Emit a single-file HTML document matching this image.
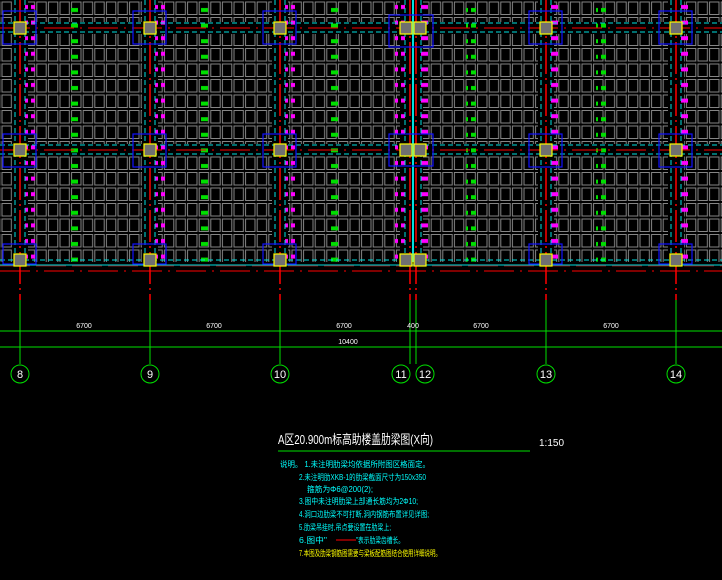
<!DOCTYPE html>
<html><head><meta charset="utf-8"><style>
html,body{margin:0;padding:0;background:#000;width:722px;height:580px;overflow:hidden}
svg{display:block}
</style></head><body>
<svg width="722" height="580" viewBox="0 0 722 580" xmlns="http://www.w3.org/2000/svg">
<defs>
<pattern id="cells" x="1" y="1" width="11.6" height="15.5" patternUnits="userSpaceOnUse">
<rect x="1" y="1" width="9.4" height="12.5" fill="none" stroke="#858585" stroke-width="1"/>
</pattern>
<pattern id="mag" x="0" y="2" width="10" height="15.6" patternUnits="userSpaceOnUse">
<rect x="1" y="3" width="7" height="4" fill="#ff00ff"/>
</pattern>
<pattern id="grn" x="0" y="5" width="10" height="15.6" patternUnits="userSpaceOnUse">
<rect x="1" y="3" width="7" height="4" fill="#00e000"/>
</pattern>
</defs>
<rect width="722" height="580" fill="#000"/>
<rect x="0" y="0" width="722" height="262" fill="url(#cells)"/>
<g fill="#000">
<rect x="12" y="0" width="16" height="262"/>
<rect x="142" y="0" width="16" height="262"/>
<rect x="272" y="0" width="16" height="262"/>
<rect x="400" y="0" width="23" height="262"/>
<rect x="538" y="0" width="16" height="262"/>
<rect x="668" y="0" width="16" height="262"/>
<rect x="0" y="22" width="722" height="12"/>
<rect x="0" y="144" width="722" height="12"/>
</g>
<g>
<rect x="25" y="0" width="10" height="262" fill="url(#mag)"/>
<rect x="155" y="0" width="10" height="262" fill="url(#mag)"/>
<rect x="285" y="0" width="10" height="262" fill="url(#mag)"/>
<rect x="395" y="0" width="10" height="262" fill="url(#mag)"/>
<rect x="421" y="0" width="10" height="262" fill="url(#mag)"/>
<rect x="551" y="0" width="10" height="262" fill="url(#mag)"/>
<rect x="681" y="0" width="10" height="262" fill="url(#mag)"/>
<rect x="70" y="0" width="10" height="262" fill="url(#grn)"/>
<rect x="200" y="0" width="10" height="262" fill="url(#grn)"/>
<rect x="330" y="0" width="10" height="262" fill="url(#grn)"/>
<rect x="466" y="0" width="10" height="262" fill="url(#grn)"/>
<rect x="596" y="0" width="10" height="262" fill="url(#grn)"/>
</g>
<g stroke="#00e0e0" stroke-width="1" stroke-dasharray="5,3" fill="none">
<line x1="0" y1="23" x2="722" y2="23"/><line x1="0" y1="32" x2="722" y2="32"/>
<line x1="0" y1="145" x2="722" y2="145"/><line x1="0" y1="154" x2="722" y2="154"/>
<line x1="0" y1="260" x2="722" y2="260"/>
</g>
<line x1="0" y1="265" x2="722" y2="265" stroke="#00e0e0" stroke-width="1"/>
<g stroke="#ff0000" stroke-width="1" stroke-dasharray="30,6,2,6" fill="none">
<line x1="0" y1="28" x2="722" y2="28"/>
<line x1="0" y1="150" x2="722" y2="150"/>
<line x1="0" y1="271" x2="722" y2="271"/>
</g>
<line x1="0" y1="266" x2="722" y2="266" stroke="#ff2020" stroke-width="0.6" stroke-dasharray="30,6"/>
<g>
<g stroke="#00e0e0" stroke-width="1" stroke-dasharray="5,3">
<line x1="15" y1="0" x2="15" y2="262"/><line x1="25" y1="0" x2="25" y2="262"/>
<line x1="145" y1="0" x2="145" y2="262"/><line x1="155" y1="0" x2="155" y2="262"/>
<line x1="275" y1="0" x2="275" y2="262"/><line x1="285" y1="0" x2="285" y2="262"/>
<line x1="405" y1="0" x2="405" y2="262"/><line x1="421" y1="0" x2="421" y2="262"/>
<line x1="541" y1="0" x2="541" y2="262"/><line x1="551" y1="0" x2="551" y2="262"/>
<line x1="671" y1="0" x2="671" y2="262"/><line x1="681" y1="0" x2="681" y2="262"/>
</g>
<line x1="413" y1="0" x2="413" y2="262" stroke="#00e0e0" stroke-width="2"/>
<g stroke="#ff0000" stroke-width="1.5" stroke-dasharray="32,4,2,4">
<line x1="20" y1="0" x2="20" y2="300"/><line x1="150" y1="0" x2="150" y2="300"/>
<line x1="280" y1="0" x2="280" y2="300"/><line x1="410" y1="0" x2="410" y2="300"/>
<line x1="416" y1="0" x2="416" y2="300"/><line x1="546" y1="0" x2="546" y2="300"/>
<line x1="676" y1="0" x2="676" y2="300"/>
</g>
</g>
<g stroke="#1010ff" stroke-width="1.2" fill="none">
<rect x="3" y="11" width="33" height="33"/><rect x="133" y="11" width="33" height="33"/>
<rect x="263" y="11" width="33" height="33"/><rect x="389" y="15" width="44" height="32"/>
<rect x="529" y="11" width="33" height="33"/><rect x="659" y="11" width="33" height="33"/>
<rect x="3" y="134" width="33" height="33"/><rect x="133" y="134" width="33" height="33"/>
<rect x="263" y="134" width="33" height="33"/><rect x="389" y="134" width="44" height="32"/>
<rect x="529" y="134" width="33" height="33"/><rect x="659" y="134" width="33" height="33"/>
<rect x="3" y="244" width="33" height="20"/><rect x="133" y="244" width="33" height="20"/>
<rect x="263" y="244" width="33" height="20"/>
<rect x="529" y="244" width="33" height="20"/><rect x="659" y="244" width="33" height="20"/>
</g>
<g fill="#707070" stroke="#ffff00" stroke-width="1.2">
<rect x="14" y="22" width="12" height="12"/><rect x="144" y="22" width="12" height="12"/>
<rect x="274" y="22" width="12" height="12"/><rect x="400" y="22" width="12" height="12"/><rect x="414" y="22" width="12" height="12"/>
<rect x="540" y="22" width="12" height="12"/><rect x="670" y="22" width="12" height="12"/>
<rect x="14" y="144" width="12" height="12"/><rect x="144" y="144" width="12" height="12"/>
<rect x="274" y="144" width="12" height="12"/><rect x="400" y="144" width="12" height="12"/><rect x="414" y="144" width="12" height="12"/>
<rect x="540" y="144" width="12" height="12"/><rect x="670" y="144" width="12" height="12"/>
<rect x="14" y="254" width="12" height="12"/><rect x="144" y="254" width="12" height="12"/>
<rect x="274" y="254" width="12" height="12"/><rect x="400" y="254" width="12" height="12"/><rect x="414" y="254" width="12" height="12"/>
<rect x="540" y="254" width="12" height="12"/><rect x="670" y="254" width="12" height="12"/>
</g>
<g stroke="#00e000" stroke-width="1">
<line x1="20" y1="300" x2="20" y2="364"/><line x1="150" y1="300" x2="150" y2="364"/>
<line x1="280" y1="300" x2="280" y2="364"/><line x1="410" y1="300" x2="410" y2="364"/>
<line x1="416" y1="300" x2="416" y2="364"/><line x1="546" y1="300" x2="546" y2="364"/>
<line x1="676" y1="300" x2="676" y2="364"/>
<line x1="0" y1="331" x2="722" y2="331"/><line x1="0" y1="347" x2="722" y2="347"/>
</g>
<g fill="none" stroke="#00e000" stroke-width="1">
<circle cx="20" cy="374" r="9"/><circle cx="150" cy="374" r="9"/><circle cx="280" cy="374" r="9"/>
<circle cx="401" cy="374" r="9"/><circle cx="425" cy="374" r="9"/><circle cx="546" cy="374" r="9"/><circle cx="676" cy="374" r="9"/>
</g>
<g fill="#fff" font-family="Liberation Sans, sans-serif" font-size="11" text-anchor="middle">
<text x="20" y="378">8</text><text x="150" y="378">9</text><text x="280" y="378">10</text>
<text x="401" y="378">11</text><text x="425" y="378">12</text><text x="546" y="378">13</text><text x="676" y="378">14</text>
</g>
<g fill="#fff" font-family="Liberation Sans, sans-serif" font-size="7" text-anchor="middle">
<text x="84" y="328">6700</text><text x="214" y="328">6700</text><text x="344" y="328">6700</text>
<text x="413" y="328">400</text><text x="481" y="328">6700</text><text x="611" y="328">6700</text>
<text x="348" y="344">10400</text>
</g>
<text x="278" y="444" fill="#fff" font-family="Liberation Sans, 'Noto Sans CJK SC', sans-serif" font-size="13" textLength="155" lengthAdjust="spacingAndGlyphs">A区20.900m标高助楼盖肋梁图(X向)</text>
<text x="539" y="446" fill="#fff" font-family="Liberation Sans, sans-serif" font-size="10">1:150</text>
<line x1="278" y1="451" x2="530" y2="451" stroke="#00e000" stroke-width="1"/>
<g fill="#00ffff" font-family="Liberation Sans, 'Noto Sans CJK SC', sans-serif" font-size="8">
<text x="280" y="467" textLength="150" lengthAdjust="spacingAndGlyphs">说明。 1.未注明肋梁均依据所附图区格面定。</text>
<text x="299" y="480" textLength="127" lengthAdjust="spacingAndGlyphs">2.未注明肋XKB-1的肋梁截面尺寸为150x350</text>
<text x="307" y="492" textLength="66" lengthAdjust="spacingAndGlyphs">箍筋为Φ6@200(2);</text>
<text x="299" y="504" textLength="119" lengthAdjust="spacingAndGlyphs">3.图中未注明肋梁上部通长筋均为2Φ10;</text>
<text x="299" y="517" textLength="130" lengthAdjust="spacingAndGlyphs">4.洞口边肋梁不可打断,洞内钢筋布置详见详图;</text>
<text x="299" y="530" textLength="92" lengthAdjust="spacingAndGlyphs">5.肋梁吊挂时,吊点要设置在肋梁上;</text>
<text x="299" y="543" textLength="28" lengthAdjust="spacingAndGlyphs">6.图中"</text>
<text x="356" y="543" textLength="48" lengthAdjust="spacingAndGlyphs">"表示肋梁齿槽长。</text>
</g>
<line x1="336" y1="540" x2="356" y2="540" stroke="#ff0000" stroke-width="1"/>
<text x="299" y="556" fill="#ffff00" font-family="Liberation Sans, 'Noto Sans CJK SC', sans-serif" font-size="8" textLength="142" lengthAdjust="spacingAndGlyphs">7.本图及肋梁钢筋图需要与梁板配筋图结合使用详细说明。</text>
</svg>
</body></html>
